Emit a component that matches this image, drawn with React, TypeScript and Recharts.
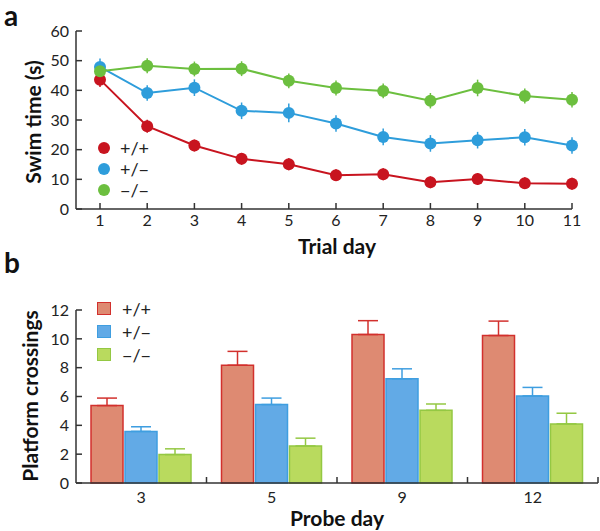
import React from 'react';
import { LineChart, Line, BarChart, Bar, XAxis, YAxis, ErrorBar } from 'recharts';

// panel a: swim time per trial day
const trialDays = [1, 2, 3, 4, 5, 6, 7, 8, 9, 10, 11];
const wtSwim = [43.6, 27.9, 21.4, 16.9, 15.1, 11.4, 11.7, 9.0, 10.1, 8.7, 8.5];
const hetSwim = [47.9, 39.1, 40.9, 33.1, 32.4, 28.8, 24.3, 22.1, 23.2, 24.2, 21.4];
const koSwim = [46.4, 48.3, 47.2, 47.3, 43.2, 40.8, 39.8, 36.5, 40.8, 38.1, 36.8];
const wtSwimErr = [2.5, 2.2, 2.0, 2.0, 2.0, 2.0, 2.0, 2.0, 2.0, 2.0, 2.0];
const hetSwimErr = [2.8, 2.6, 2.8, 2.8, 3.2, 2.8, 2.8, 2.8, 2.8, 2.8, 2.8];
const koSwimErr = [2.5, 2.5, 2.5, 2.5, 2.5, 2.5, 2.5, 2.6, 2.8, 2.5, 2.6];
const swimTicks = [0, 10, 20, 30, 40, 50, 60];

// panel b: platform crossings per probe day
const probeDays = ['3', '5', '9', '12'];
const wtCross = [5.37, 8.17, 10.3, 10.23];
const hetCross = [3.58, 5.44, 7.23, 6.04];
const koCross = [1.97, 2.57, 5.04, 4.1];
const wtCrossErr = [0.52, 0.96, 0.96, 1.0];
const hetCrossErr = [0.32, 0.45, 0.69, 0.59];
const koCrossErr = [0.4, 0.54, 0.44, 0.74];
const crossTicks = [0, 2, 4, 6, 8, 10, 12];

const genotypes = ['+/+', '+/\u2212', '\u2212/\u2212'];

const FONT = 'Lato, "Open Sans", sans-serif';
const AXIS = '#333';
const LINE_COLORS = ['#c8141f', '#2e9ddb', '#6cbf3f'];
const BAR_FILL = ['#de8a72', '#62aae6', '#b9da5e'];
const BAR_STROKE = ['#d2302d', '#3f9ee0', '#94c843'];

const swimData = trialDays.map((d, i) => ({
  day: d,
  wt: wtSwim[i],
  het: hetSwim[i],
  ko: koSwim[i],
  wtErr: wtSwimErr[i],
  hetErr: hetSwimErr[i],
  koErr: koSwimErr[i],
}));

const crossData = probeDays.map((d, i) => ({
  day: d,
  wt: wtCross[i],
  het: hetCross[i],
  ko: koCross[i],
  wtErr: [0, wtCrossErr[i]],
  hetErr: [0, hetCrossErr[i]],
  koErr: [0, koCrossErr[i]],
}));

// ticks point inward, labels sit outside
const YTick = (props: any) => {
  const { x, y, payload } = props;
  return (
    <g>
      <line x1={x} x2={x + 6} y1={y} y2={y} stroke={AXIS} strokeWidth={1.5} />
      <text x={x - 7} y={y} dy="0.36em" textAnchor="end" fontSize={16} fill="#222" fontFamily={FONT}>
        {payload.value}
      </text>
    </g>
  );
};

const XTick = (props: any) => {
  const { x, y, payload } = props;
  return (
    <g>
      <line x1={x} x2={x} y1={y - 6} y2={y} stroke={AXIS} strokeWidth={1.5} />
      <text x={x} y={y + 17} textAnchor="middle" fontSize={16} fill="#222" fontFamily={FONT}>
        {payload.value}
      </text>
    </g>
  );
};

// ticks on category boundaries, label at centre
const BandTick = (props: any) => {
  const { x, y, payload, width } = props;
  const band = (Number(width) || 522) / probeDays.length;
  const tx = x + band / 2;
  return (
    <g>
      <line x1={tx} x2={tx} y1={y - 6} y2={y} stroke={AXIS} strokeWidth={1.5} />
      <text x={x} y={y + 20} textAnchor="middle" fontSize={16} fill="#222" fontFamily={FONT}>
        {payload.value}
      </text>
    </g>
  );
};

const DotLegend = () => (
  <div style={{ position: 'absolute', left: 98, top: 137, fontFamily: FONT, fontSize: 18, color: '#222' }}>
    {genotypes.map((g, i) => (
      <div key={g} style={{ display: 'flex', alignItems: 'center', height: 21 }}>
        <span
          style={{
            width: 12,
            height: 12,
            borderRadius: 6,
            background: LINE_COLORS[i],
            display: 'inline-block',
            marginRight: 10,
          }}
        />
        {g}
      </div>
    ))}
  </div>
);

const BoxLegend = () => (
  <div style={{ position: 'absolute', left: 97, top: 297, fontFamily: FONT, fontSize: 18, color: '#222' }}>
    {genotypes.map((g, i) => (
      <div key={g} style={{ display: 'flex', alignItems: 'center', height: 23 }}>
        <span
          style={{
            width: 12,
            height: 11,
            background: BAR_FILL[i],
            border: `1.5px solid ${BAR_STROKE[i]}`,
            display: 'inline-block',
            marginRight: 11,
          }}
        />
        {g}
      </div>
    ))}
  </div>
);

const title: React.CSSProperties = {
  position: 'absolute',
  fontFamily: FONT,
  fontWeight: 700,
  fontSize: 21,
  lineHeight: 1,
  color: '#111',
  whiteSpace: 'nowrap',
};

export default function App() {
  const keys = ['wt', 'het', 'ko'];
  return (
    <div style={{ position: 'absolute', left: 0, top: 0, width: 600, height: 531, background: '#fff' }}>
      <div style={{ ...title, left: 4, top: 1, fontSize: 28 }}>a</div>
      <div style={{ ...title, left: 4, top: 248, fontSize: 28 }}>b</div>

      <div style={{ position: 'absolute', left: 0, top: 0 }}>
        <LineChart width={600} height={240} data={swimData} margin={{ top: 31, right: 28, left: 0, bottom: 0 }}>
          <XAxis
            dataKey="day"
            type="number"
            domain={[1, 11]}
            ticks={trialDays}
            padding={{ left: 24, right: 0 }}
            height={31}
            tickSize={0}
            tickMargin={0}
            tickLine={false}
            tick={<XTick />}
            stroke={AXIS}
            strokeWidth={1.5}
          />
          <YAxis
            domain={[0, 60]}
            ticks={swimTicks}
            width={76}
            tickSize={0}
            tickMargin={0}
            tickLine={false}
            tick={<YTick />}
            stroke={AXIS}
            strokeWidth={1.5}
          />
          {keys.map((k, i) => (
            <Line
              key={k}
              dataKey={k}
              stroke={LINE_COLORS[i]}
              strokeWidth={2}
              dot={{ r: 6, fill: LINE_COLORS[i], stroke: 'none' }}
              isAnimationActive={false}
            >
              <ErrorBar dataKey={`${k}Err`} width={0} stroke={LINE_COLORS[i]} strokeWidth={1.5} direction="y" />
            </Line>
          ))}
        </LineChart>
      </div>
      <DotLegend />
      <div style={{ ...title, left: 337, top: 235, transform: 'translateX(-50%)' }}>Trial day</div>
      <div
        style={{
          ...title,
          left: 32,
          top: 122,
          transform: 'translate(-50%, -50%) rotate(-90deg)',
        }}
      >
        Swim time (s)
      </div>

      <div style={{ position: 'absolute', left: 0, top: 270 }}>
        <BarChart
          width={600}
          height={261}
          data={crossData}
          margin={{ top: 40, right: 2, left: 0, bottom: 0 }}
          barCategoryGap="11.5%"
          barGap={2}
        >
          <XAxis
            dataKey="day"
            height={48}
            tickSize={0}
            tickMargin={0}
            tickLine={false}
            tick={<BandTick />}
            stroke={AXIS}
            strokeWidth={1.5}
          />
          <YAxis
            domain={[0, 12]}
            ticks={crossTicks}
            width={76}
            tickSize={0}
            tickMargin={0}
            tickLine={false}
            tick={<YTick />}
            stroke={AXIS}
            strokeWidth={1.5}
          />
          {keys.map((k, i) => (
            <Bar key={k} dataKey={k} fill={BAR_FILL[i]} stroke={BAR_STROKE[i]} strokeWidth={1.5} isAnimationActive={false}>
              <ErrorBar dataKey={`${k}Err`} width={10} stroke={BAR_STROKE[i]} strokeWidth={1.5} direction="y" />
            </Bar>
          ))}
        </BarChart>
      </div>
      <BoxLegend />
      <div style={{ ...title, left: 337, top: 507, transform: 'translateX(-50%)' }}>Probe day</div>
      <div
        style={{
          ...title,
          left: 29,
          top: 396,
          transform: 'translate(-50%, -50%) rotate(-90deg)',
        }}
      >
        Platform crossings
      </div>
    </div>
  );
}
